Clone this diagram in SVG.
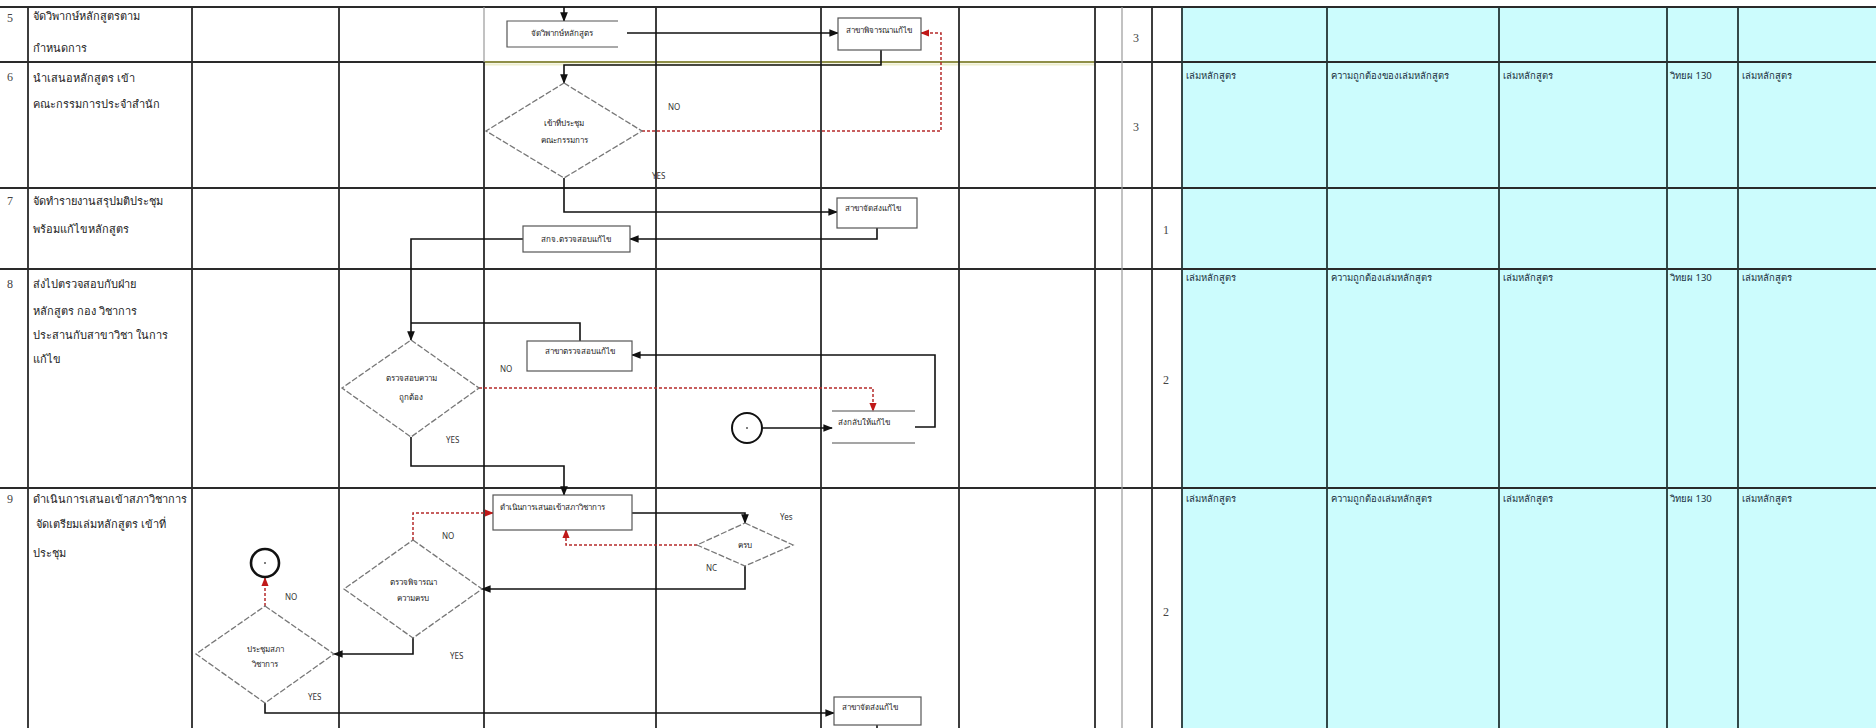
<svg xmlns="http://www.w3.org/2000/svg" width="1876" height="728" viewBox="0 0 1876 728">
<style>
.g{stroke:#2a2a2a;stroke-width:1.8;fill:none}
.gt{stroke:#9a9a9a;stroke-width:1.2;fill:none}
.gc{stroke:#243636;stroke-width:1.8;fill:none}
.box{fill:#fff;stroke:#555;stroke-width:1.2}
.dia{fill:#fff;stroke:#777;stroke-width:1.3;stroke-dasharray:6 2}
.c{stroke:#111;stroke-width:1.6;fill:none}
.r{stroke:#b52a2a;stroke-width:1.5;fill:none;stroke-dasharray:3 2}
text{font-family:"Noto Sans","DejaVu Sans",sans-serif;fill:#222}
.t{font-size:11px}
.n{font-size:8px}
.l{font-size:8px;fill:#333}
.cy{font-size:9.5px;fill:#203040}
.num{font-size:12px;font-family:"Liberation Serif",serif;fill:#444}
</style>
<defs>
<marker id="a" viewBox="0 0 10 10" refX="9" refY="5" markerWidth="6" markerHeight="6" orient="auto"><path d="M0,1 L10,5 L0,9 z" fill="#111"/></marker>
<marker id="ar" viewBox="0 0 10 10" refX="9" refY="5" markerWidth="6" markerHeight="6" orient="auto"><path d="M0,1 L10,5 L0,9 z" fill="#c01818"/></marker>
</defs>
<rect x="0" y="0" width="1876" height="728" fill="#fff"/>
<rect x="1182" y="7" width="694" height="721" fill="#ccfcfd"/>
<g id="grid">
<path class="g" d="M0,7H1876M0,62H1876M0,188H1876M0,269H1876M0,488H1876"/>
<path d="M484,62H1095" stroke="#8f8f48" stroke-width="2"/>
<path d="M484,64.5H1095" stroke="#eeeecc" stroke-width="2"/>
<path class="g" d="M28,7V728M192,7V728M339,7V728M484,62V728M656,7V728M821,7V728M959,7V728M1095,7V728M1152,7V728"/>
<path class="gt" d="M484,7V62M1122,7V728"/>
<path class="gc" d="M1182,7V728M1327,7V728M1499,7V728M1667,7V728M1738,7V728"/>
</g>
<g id="labels-left">
<text class="num" x="7" y="22">5</text>
<text class="num" x="7" y="81">6</text>
<text class="num" x="7" y="205">7</text>
<text class="num" x="7" y="288">8</text>
<text class="num" x="7" y="503">9</text>
<text class="t" x="33" y="20">จัดวิพากษ์หลักสูตรตาม</text>
<text class="t" x="33" y="52">กำหนดการ</text>
<text class="t" x="33" y="82">นำเสนอหลักสูตร เข้า</text>
<text class="t" x="33" y="108">คณะกรรมการประจำสำนัก</text>
<text class="t" x="33" y="205">จัดทำรายงานสรุปมติประชุม</text>
<text class="t" x="33" y="233">พร้อมแก้ไขหลักสูตร</text>
<text class="t" x="33" y="288">ส่งไปตรวจสอบกับฝ่าย</text>
<text class="t" x="33" y="315">หลักสูตร กอง วิชาการ</text>
<text class="t" x="33" y="339">ประสานกับสาขาวิชา ในการ</text>
<text class="t" x="33" y="363">แก้ไข</text>
<text class="t" x="33" y="503">ดำเนินการเสนอเข้าสภาวิชาการ</text>
<text class="t" x="36" y="528">จัดเตรียมเล่มหลักสูตร เข้าที่</text>
<text class="t" x="33" y="557">ประชุม</text>
</g>
<g id="labels-right">
<text class="num" x="1133" y="42">3</text>
<text class="num" x="1133" y="131">3</text>
<text class="num" x="1163" y="234">1</text>
<text class="num" x="1163" y="384">2</text>
<text class="num" x="1163" y="616">2</text>
<text class="cy" x="1186" y="79">เล่มหลักสูตร</text>
<text class="cy" x="1331" y="79">ความถูกต้องของเล่มหลักสูตร</text>
<text class="cy" x="1503" y="79">เล่มหลักสูตร</text>
<text class="cy" x="1670" y="79">วิทยผ 130</text>
<text class="cy" x="1742" y="79">เล่มหลักสูตร</text>
<text class="cy" x="1186" y="281">เล่มหลักสูตร</text>
<text class="cy" x="1331" y="281">ความถูกต้องเล่มหลักสูตร</text>
<text class="cy" x="1503" y="281">เล่มหลักสูตร</text>
<text class="cy" x="1670" y="281">วิทยผ 130</text>
<text class="cy" x="1742" y="281">เล่มหลักสูตร</text>
<text class="cy" x="1186" y="502">เล่มหลักสูตร</text>
<text class="cy" x="1331" y="502">ความถูกต้องเล่มหลักสูตร</text>
<text class="cy" x="1503" y="502">เล่มหลักสูตร</text>
<text class="cy" x="1670" y="502">วิทยผ 130</text>
<text class="cy" x="1742" y="502">เล่มหลักสูตร</text>
</g>
<g id="connectors">
<path class="c" d="M564,7V21" marker-end="url(#a)"/>
<path class="c" d="M627,33H838" marker-end="url(#a)"/>
<path class="c" d="M881,50V65H564V83" marker-end="url(#a)"/>
<path class="r" d="M642,131H941V33H921" marker-end="url(#ar)"/>
<path class="c" d="M564,178V212H837" marker-end="url(#a)"/>
<path class="c" d="M877,228V239H630" marker-end="url(#a)"/>
<path class="c" d="M523,239H411V340" marker-end="url(#a)"/>
<path class="c" d="M580,341V323H411"/>
<path class="r" d="M479,388H873V411" marker-end="url(#ar)"/>
<path class="c" d="M762,428H832" marker-end="url(#a)"/>
<path class="c" d="M915,427H935V355H632" marker-end="url(#a)"/>
<path class="c" d="M411,437V466H564V495" marker-end="url(#a)"/>
<path class="c" d="M632,513H745V523" marker-end="url(#a)"/>
<path class="r" d="M697,545H566V530" marker-end="url(#ar)"/>
<path class="c" d="M745,566V589H482" marker-end="url(#a)"/>
<path class="r" d="M413,540V513H493" marker-end="url(#ar)"/>
<path class="c" d="M413,638V654H334" marker-end="url(#a)"/>
<path class="r" d="M265,606V578" marker-end="url(#ar)"/>
<path class="c" d="M265,703V713H834" marker-end="url(#a)"/>
<path class="c" d="M877,725V728"/>
<text class="l" x="668" y="110">NO</text>
<text class="l" x="652" y="179">YES</text>
<text class="l" x="500" y="372">NO</text>
<text class="l" x="446" y="443">YES</text>
<text class="l" x="780" y="520">Yes</text>
<text class="l" x="706" y="571">NC</text>
<text class="l" x="442" y="539">NO</text>
<text class="l" x="450" y="659">YES</text>
<text class="l" x="285" y="600">NO</text>
<text class="l" x="308" y="700">YES</text>
</g>
<g id="n1">
<path class="box" d="M618,21H507V47H618" fill="#fff"/>
<text class="n" x="562" y="36" text-anchor="middle">จัดวิพากษ์หลักสูตร</text>
</g>
<g id="n2">
<rect class="box" x="838" y="18" width="83" height="32"/>
<text class="n" x="846" y="33">สาขาพิจารณาแก้ไข</text>
</g>
<g id="n3">
<polygon class="dia" points="564,83 642,131 564,178 486,131"/>
<text class="n" x="564" y="126" text-anchor="middle">เข้าที่ประชุม</text>
<text class="n" x="564" y="143" text-anchor="middle">คณะกรรมการ</text>
</g>
<g id="n4">
<rect class="box" x="837" y="198" width="80" height="30"/>
<text class="n" x="845" y="211">สาขาจัดส่งแก้ไข</text>
</g>
<g id="n5">
<rect class="box" x="523" y="226" width="107" height="26"/>
<text class="n" x="576" y="242" text-anchor="middle">สกจ.ตรวจสอบแก้ไข</text>
</g>
<g id="n6">
<polygon class="dia" points="411,340 479,388 411,437 342,388"/>
<text class="n" x="411" y="381" text-anchor="middle">ตรวจสอบความ</text>
<text class="n" x="411" y="400" text-anchor="middle">ถูกต้อง</text>
</g>
<g id="n7">
<rect class="box" x="527" y="341" width="105" height="30"/>
<text class="n" x="580" y="354" text-anchor="middle">สาขาตรวจสอบแก้ไข</text>
</g>
<g id="n8">
<path d="M832,411H915M832,443H915" stroke="#888" stroke-width="1.5"/>
<text class="n" x="838" y="425">ส่งกลับให้แก้ไข</text>
</g>
<g id="n9">
<circle cx="747" cy="428" r="15" fill="#fff" stroke="#111" stroke-width="2"/>
<circle cx="747" cy="428" r="1" fill="#555"/>
</g>
<g id="n10">
<rect class="box" x="493" y="495" width="139" height="35"/>
<text class="n" x="500" y="510">ดำเนินการเสนอเข้าสภาวิชาการ</text>
</g>
<g id="n11">
<polygon class="dia" points="745,523 793,545 745,566 697,545"/>
<text class="n" x="745" y="548" text-anchor="middle">ครบ</text>
</g>
<g id="n12">
<polygon class="dia" points="413,540 482,589 413,638 344,589"/>
<text class="n" x="413" y="585" text-anchor="middle">ตรวจพิจารณา</text>
<text class="n" x="413" y="601" text-anchor="middle">ความครบ</text>
</g>
<g id="n13">
<polygon class="dia" points="265,606 334,654 265,703 196,654"/>
<text class="n" x="265" y="652" text-anchor="middle">ประชุมสภา</text>
<text class="n" x="265" y="667" text-anchor="middle">วิชาการ</text>
</g>
<g id="n14">
<circle cx="265" cy="563" r="14" fill="#fff" stroke="#111" stroke-width="2.6"/>
<circle cx="265" cy="563" r="1" fill="#555"/>
</g>
<g id="n15">
<rect class="box" x="834" y="697" width="87" height="28"/>
<text class="n" x="842" y="710">สาขาจัดส่งแก้ไข</text>
</g>
</svg>
